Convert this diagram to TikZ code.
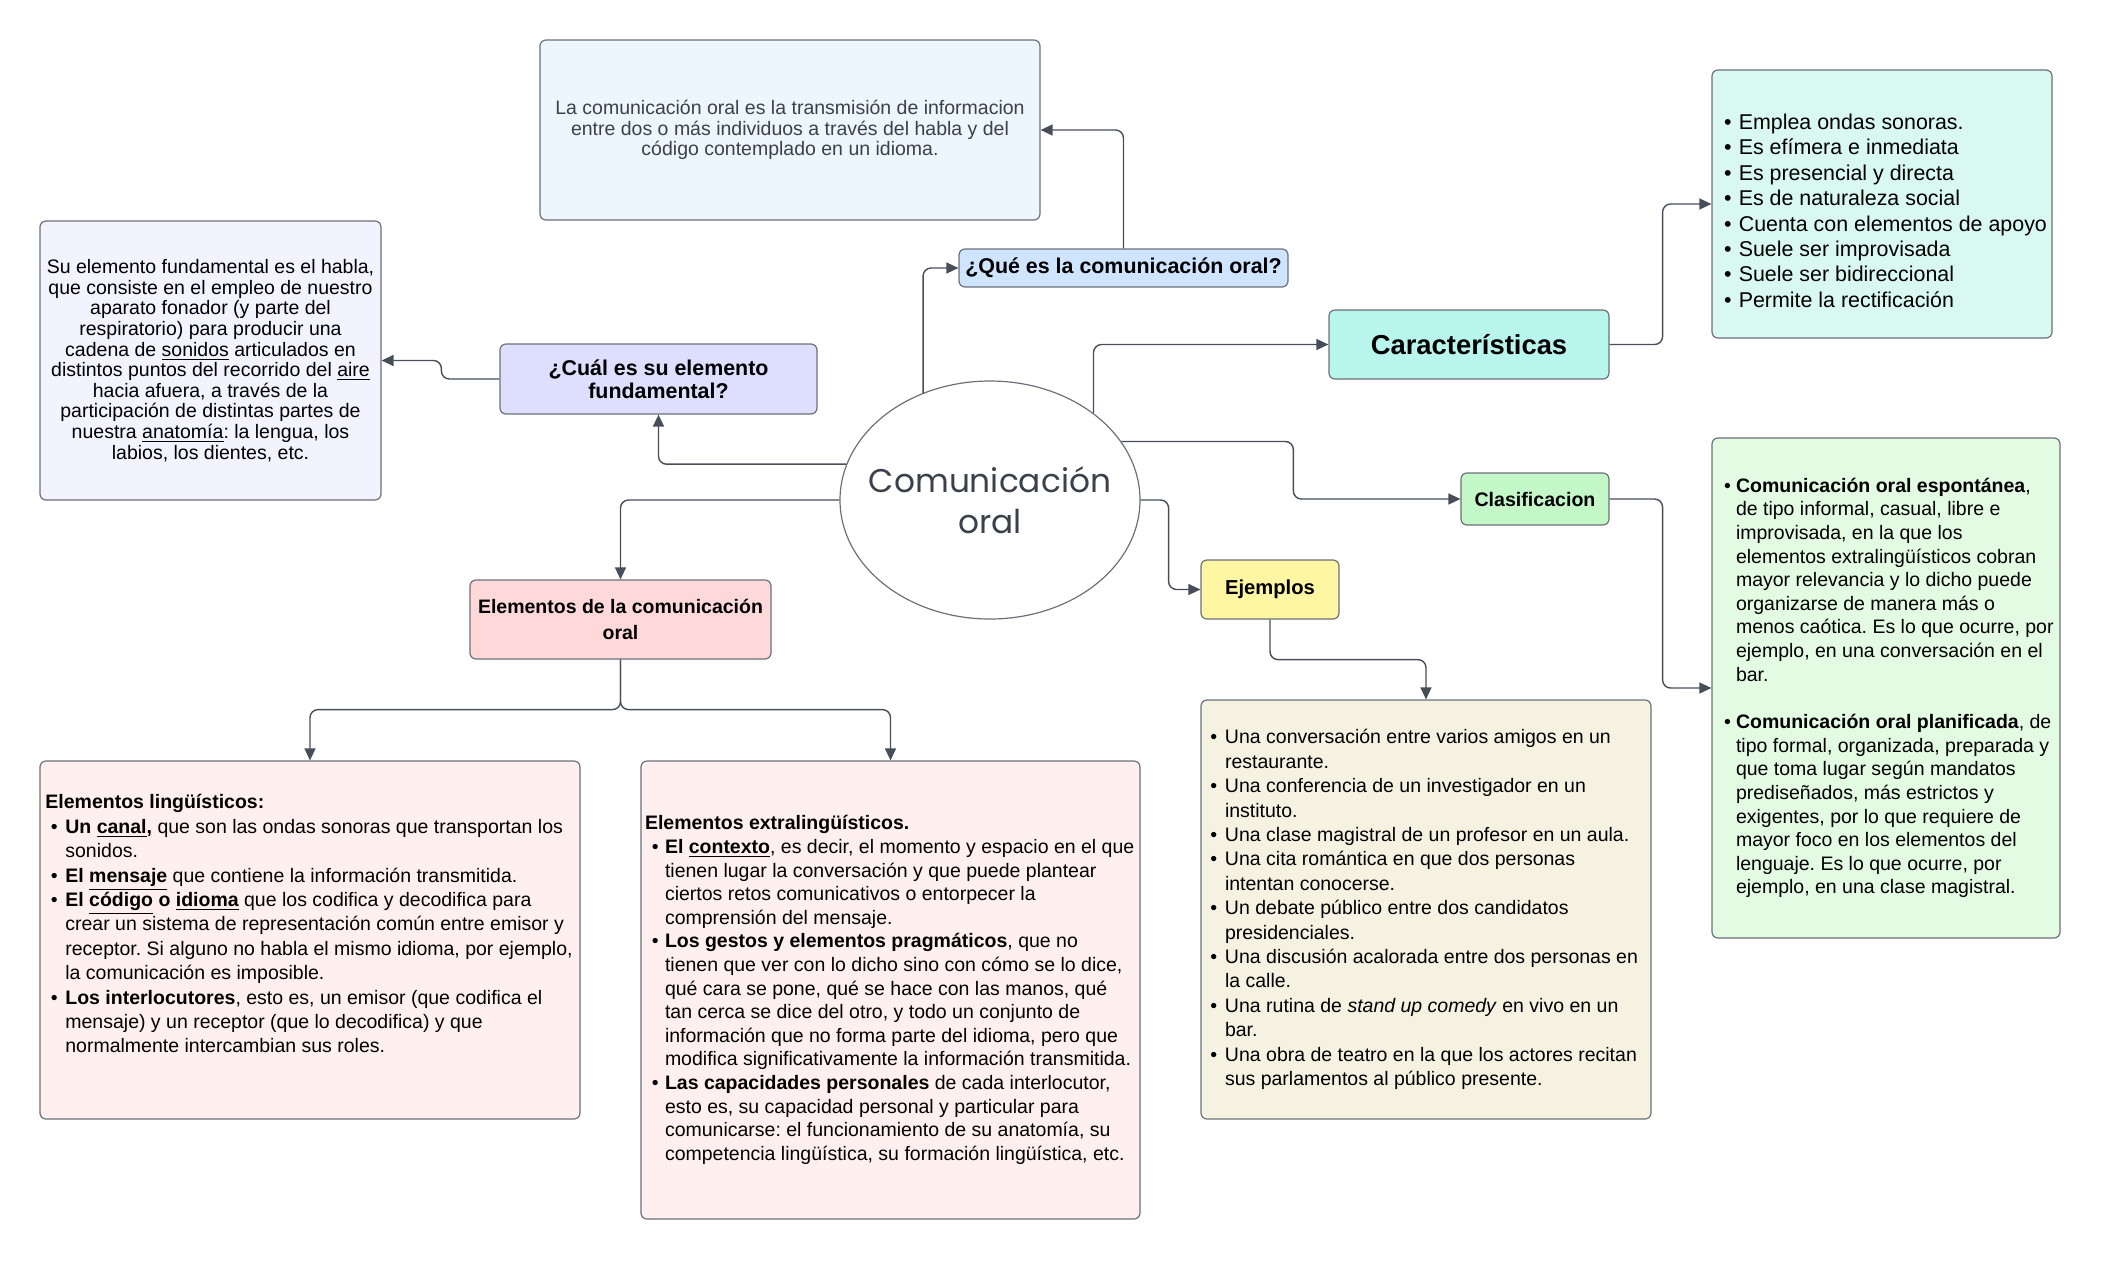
\documentclass[tikz,border=0pt]{standalone}
\usepackage{fontspec}
\setmainfont{Liberation Sans}
\newfontfamily\roundfont{Poppins}
\usetikzlibrary{arrows.meta,shapes.geometric}
\definecolor{linec}{HTML}{474E5A}
\definecolor{bordc}{HTML}{6B7079}
\definecolor{centc}{HTML}{3A414A}
\definecolor{defc}{HTML}{EDF5FF}
\definecolor{quec}{HTML}{CFE4FF}
\definecolor{cualc}{HTML}{DEDEFF}
\definecolor{suc}{HTML}{F3F2FF}
\definecolor{carc}{HTML}{B8F5ED}
\definecolor{carlc}{HTML}{D9F8F2}
\definecolor{clasc}{HTML}{C3F7C8}
\definecolor{clasdc}{HTML}{E3FAE3}
\definecolor{ejemc}{HTML}{FFF6A3}
\definecolor{ejemlc}{HTML}{F5F2E1}
\definecolor{elemc}{HTML}{FFD9D9}
\definecolor{lingc}{HTML}{FFEFEF}
\newlength\bpre
\newlength\bhang
\newcommand\bl{\hspace*{\bpre}\makebox[\dimexpr\bhang-\bpre\relax][l]{\textbullet}}
\newcommand\ct{\hspace*{\bhang}}
\frenchspacing
\tikzset{
  box/.style={draw=bordc, line width=0.6pt, rounded corners=3pt, inner sep=0pt, align=center},
  listbox/.style 2 args={box, align=flush left, execute at begin node={\setlength\bpre{#1}\setlength\bhang{#2}}},
  conn/.style={draw=linec, line width=0.7pt, rounded corners=4pt, -{Triangle[length=6pt,width=5.5pt]}}
}
\begin{document}
\begin{tikzpicture}[x=0.5pt,y=-0.5pt]
\useasboundingbox (0,0) rectangle (2101,1260);
\node[ellipse, draw=bordc, line width=0.6pt, fill=white, minimum width=150pt, minimum height=119pt, inner xsep=-20pt, inner ysep=0pt, align=center, text=centc, font=\roundfont\fontsize{16.4}{20.8}\selectfont] (com) at (990,500) {Comunicación\\oral};
\node[box, fill=defc, minimum width=250pt, minimum height=90pt, text=centc, font=\fontsize{9.75}{10.4}\selectfont] (def) at (790,130) {La comunicación oral es la transmisión de informacion\\entre dos o más individuos a través del habla y del\\código contemplado en un idioma.};
\node[box, fill=quec, minimum width=164.5pt, minimum height=19pt, font=\bfseries\fontsize{10.7}{12}\selectfont] (que) at (1123.5,268) {¿Qué es la comunicación oral?};
\node[box, fill=cualc, minimum width=158.5pt, minimum height=35pt, font=\bfseries\fontsize{10.7}{11.4}\selectfont] (cual) at (658.5,379) {¿Cuál es su elemento\\fundamental?};
\node[box, fill=suc, minimum width=170.5pt, minimum height=139.5pt, font=\fontsize{9.75}{10.3}\selectfont] (su) at (210.5,360.5) {Su elemento fundamental es el habla,\\que consiste en el empleo de nuestro\\aparato fonador (y parte del\\respiratorio) para producir una\\cadena de \underline{sonidos} articulados en\\distintos puntos del recorrido del \underline{aire}\\hacia afuera, a través de la\\participación de distintas partes de\\nuestra \underline{anatomía}: la lengua, los\\labios, los dientes, etc.};
\node[box, fill=carc, minimum width=140pt, minimum height=34.5pt, font=\bfseries\fontsize{13.7}{15}\selectfont] (car) at (1469,344.5) {Características};
\node[listbox={6pt}{13.4pt}, fill=carlc, text width=170pt, minimum height=134pt, font=\fontsize{10.7}{12.7}\selectfont] (carlist) at (1882,204) {\rule{0pt}{14.4pt}\bl Emplea ondas sonoras.\\\bl Es efímera e inmediata\\\bl Es presencial y directa\\\bl Es de naturaleza social\\\bl Cuenta con elementos de apoyo\\\bl Suele ser improvisada\\\bl Suele ser bidireccional\\\bl Permite la rectificación};
\node[box, fill=clasc, minimum width=74pt, minimum height=26pt, font=\bfseries\fontsize{9.8}{10}\selectfont] (clas) at (1535,499) {Clasificacion};
\node[listbox={6pt}{12pt}, fill=clasdc, text width=174pt, minimum height=250pt, font=\fontsize{9.75}{11.8}\selectfont] (clasdet) at (1886,688) {\bl\textbf{Comunicación oral espontánea},\\\ct de tipo informal, casual, libre e\\\ct improvisada, en la que los\\\ct elementos extralingüísticos cobran\\\ct mayor relevancia y lo dicho puede\\\ct organizarse de manera más o\\\ct menos caótica. Es lo que ocurre, por\\\ct ejemplo, en una conversación en el\\\ct bar.\\[12pt]\bl\textbf{Comunicación oral planificada}, de\\\ct tipo formal, organizada, preparada y\\\ct que toma lugar según mandatos\\\ct prediseñados, más estrictos y\\\ct exigentes, por lo que requiere de\\\ct mayor foco en los elementos del\\\ct lenguaje. Es lo que ocurre, por\\\ct ejemplo, en una clase magistral.};
\node[box, fill=ejemc, minimum width=69pt, minimum height=29.5pt, font=\bfseries\fontsize{10.1}{11}\selectfont] (ejem) at (1270,589.5) {Ejemplos};
\node[listbox={4.7pt}{12pt}, fill=ejemlc, text width=225pt, minimum height=209.5pt, font=\fontsize{9.75}{12.2}\selectfont] (ejemlist) at (1426,909.5) {\bl Una conversación entre varios amigos en un\\\ct restaurante.\\\bl Una conferencia de un investigador en un\\\ct instituto.\\\bl Una clase magistral de un profesor en un aula.\\\bl Una cita romántica en que dos personas\\\ct intentan conocerse.\\\bl Un debate público entre dos candidatos\\\ct presidenciales.\\\bl Una discusión acalorada entre dos personas en\\\ct la calle.\\\bl Una rutina de \textit{stand up comedy} en vivo en un\\\ct bar.\\\bl Una obra de teatro en la que los actores recitan\\\ct sus parlamentos al público presente.};
\node[box, fill=elemc, minimum width=150.5pt, minimum height=39.5pt, font=\bfseries\fontsize{9.75}{12.7}\selectfont] (elem) at (620.5,619.5) {Elementos de la comunicación\\oral};
\node[listbox={5.4pt}{12.7pt}, fill=lingc, text width=270pt, minimum height=179pt, font=\fontsize{9.75}{12.2}\selectfont] (ling) at (310,940) {\hspace*{2.7pt}\textbf{Elementos lingüísticos:}\\\bl\textbf{Un \underline{canal},} que son las ondas sonoras que transportan los\\\ct sonidos.\\\bl\textbf{El \underline{mensaje}} que contiene la información transmitida.\\\bl\textbf{El \underline{código} o \underline{idioma}} que los codifica y decodifica para\\\ct crear un sistema de representación común entre emisor y\\\ct receptor. Si alguno no habla el mismo idioma, por ejemplo,\\\ct la comunicación es imposible.\\\bl\textbf{Los interlocutores}, esto es, un emisor (que codifica el\\\ct mensaje) y un receptor (que lo decodifica) y que\\\ct normalmente intercambian sus roles.\\[4pt]\mbox{}};
\node[listbox={5.4pt}{12pt}, fill=lingc, text width=249.5pt, minimum height=229pt, font=\fontsize{9.75}{11.8}\selectfont] (extra) at (890.5,990) {\hspace*{2pt}\textbf{Elementos extralingüísticos.}\\\bl\textbf{El \underline{contexto}}, es decir, el momento y espacio en el que\\\ct tienen lugar la conversación y que puede plantear\\\ct ciertos retos comunicativos o entorpecer la\\\ct comprensión del mensaje.\\\bl\textbf{Los gestos y elementos pragmáticos}, que no\\\ct tienen que ver con lo dicho sino con cómo se lo dice,\\\ct qué cara se pone, qué se hace con las manos, qué\\\ct tan cerca se dice del otro, y todo un conjunto de\\\ct información que no forma parte del idioma, pero que\\\ct modifica significativamente la información transmitida.\\\bl\textbf{Las capacidades personales} de cada interlocutor,\\\ct esto es, su capacidad personal y particular para\\\ct comunicarse: el funcionamiento de su anatomía, su\\\ct competencia lingüística, su formación lingüística, etc.};
\draw[conn] (com.122) |- (que.west);
\draw[conn] (que.north) |- (def.east);
\draw[conn] (com.166) -| (cual.south);
\draw[conn] (cual.west) -- ++(-58,0) |- (su.east);
\draw[conn] (com.west) -| (elem.north);
\draw[conn] (elem.south) -- ++(0,50) -| (ling.north);
\draw[conn] (elem.south) -- ++(0,50) -| (extra.north);
\draw[conn] (com.40) |- (car.west);
\draw[conn] (car.east) -- ++(53,0) |- (carlist.west);
\draw[conn] (com.24) -- ++(172,0) |- (clas.west);
\draw[conn] (clas.east) -- ++(53,0) |- (clasdet.west);
\draw[conn] (com.east) -- ++(28,0) |- (ejem.west);
\draw[conn] (ejem.south) -- ++(0,40) -| (ejemlist.north);
\end{tikzpicture}
\end{document}
